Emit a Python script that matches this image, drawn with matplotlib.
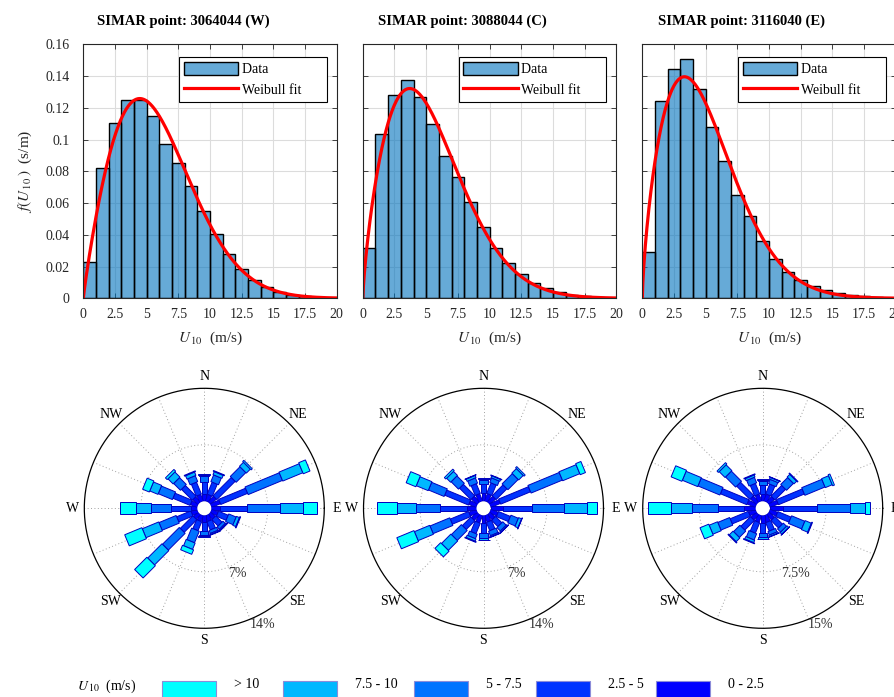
import numpy as np
import matplotlib
matplotlib.use("Agg")
import matplotlib.pyplot as plt
from matplotlib.patches import Polygon, Circle, Rectangle, Patch
from matplotlib.lines import Line2D

plt.rcParams['font.family'] = ['Liberation Serif', 'DejaVu Serif']
plt.rcParams['mathtext.fontset'] = 'stix'

# ---------------- data ----------------
titles = ["SIMAR point: 3064044 (W)", "SIMAR point: 3088044 (C)", "SIMAR point: 3116040 (E)"]
bin_edges = list(range(0, 21))  # 1 m/s bins

hist_W = [0.0227, 0.0819, 0.1105, 0.125, 0.125, 0.115, 0.0973, 0.085, 0.0707, 0.0547,
          0.0404, 0.0278, 0.0185, 0.0116, 0.0069, 0.0040, 0.0023, 0.0015, 0.0008, 0.0004]
hist_C = [0.032, 0.1036, 0.1282, 0.1375, 0.1265, 0.1097, 0.0895, 0.0762, 0.0608, 0.0448,
          0.0318, 0.0223, 0.0152, 0.0097, 0.0063, 0.0038, 0.0023, 0.0015, 0.0008, 0.0004]
hist_E = [0.029, 0.124, 0.1446, 0.1505, 0.1318, 0.108, 0.0863, 0.0653, 0.0516, 0.036,
          0.0246, 0.0168, 0.0116, 0.0078, 0.0050, 0.0032, 0.0019, 0.0013, 0.0008, 0.0004]

# Weibull fit parameters (shape k, scale c)
weib_k = [1.9, 1.75, 1.7]
weib_c = [6.6, 6.0, 5.6]

xticks = [0, 2.5, 5, 7.5, 10, 12.5, 15, 17.5, 20]
xtick_labels = ["0", "2.5", "5", "7.5", "10", "12.5", "15", "17.5", "20"]
yticks = [0, 0.02, 0.04, 0.06, 0.08, 0.1, 0.12, 0.14, 0.16]
ytick_labels = ["0", "0.02", "0.04", "0.06", "0.08", "0.1", "0.12", "0.14", "0.16"]

# wind rose: 16 directions (clockwise from N), 5 speed classes (% of time)
directions = ["N", "NNE", "NE", "ENE", "E", "ESE", "SE", "SSE",
              "S", "SSW", "SW", "WSW", "W", "WNW", "NW", "NNW"]
speed_classes = ["0 - 2.5", "2.5 - 5", "5 - 7.5", "7.5 - 10", "> 10"]
class_colors = [(0, 0, 1), (0, 0.2, 1), (0, 0.45, 1), (0, 0.72, 1), (0, 1, 1)]

rose_W = [[0.9, 1.5, 0.7, 0.2, 0.05], [0.9, 1.6, 0.9, 0.4, 0.1], [1.0, 3.2, 1.7, 0.7, 0.2],
          [1.2, 3.6, 4.6, 2.7, 0.9], [1.1, 3.3, 4.1, 2.9, 1.7], [0.9, 1.3, 1.0, 0.4, 0.1],
          [0.8, 1.1, 0.4, 0.15, 0.05], [0.8, 1.1, 0.4, 0.15, 0.05], [0.8, 1.2, 0.5, 0.1, 0.05],
          [0.8, 1.2, 1.55, 0.85, 0.6], [0.8, 2.2, 2.95, 2.5, 2.15], [0.8, 1.9, 2.3, 2.2, 2.3],
          [0.8, 2.4, 2.5, 1.9, 2.0], [0.9, 2.3, 1.9, 1.1, 0.9], [0.9, 1.9, 1.2, 0.9, 0.3],
          [0.9, 1.6, 0.8, 0.45, 0.1]]
rose_C = [[1.0, 1.2, 0.45, 0.15, 0.05], [1.0, 1.4, 0.6, 0.25, 0.05], [1.0, 1.9, 1.8, 0.8, 0.2],
          [1.3, 4.0, 4.2, 2.3, 0.7], [1.6, 3.5, 3.95, 2.85, 1.35], [1.0, 1.6, 1.0, 0.4, 0.05],
          [0.9, 1.1, 0.6, 0.15, 0.05], [0.9, 1.1, 0.6, 0.15, 0.05], [1.0, 1.2, 0.6, 0.2, 0.05],
          [1.0, 1.4, 0.6, 0.3, 0.1], [1.0, 1.5, 1.75, 1.65, 1.0], [1.0, 2.45, 2.65, 2.05, 2.3],
          [1.2, 3.3, 3.0, 2.3, 2.5], [1.0, 3.2, 2.1, 1.6, 1.3], [1.0, 2.0, 1.3, 0.7, 0.25],
          [1.0, 1.3, 0.7, 0.3, 0.05]]
rose_E = [[1.0, 1.2, 0.5, 0.15, 0.05], [1.0, 1.4, 0.6, 0.25, 0.05], [1.0, 2.0, 1.3, 0.5, 0.1],
          [1.2, 3.7, 2.9, 1.0, 0.25], [1.8, 4.45, 4.35, 2.1, 0.55], [1.1, 1.9, 1.9, 0.9, 0.1],
          [1.0, 1.4, 0.6, 0.3, 0.05], [1.0, 1.2, 0.5, 0.2, 0.05], [1.0, 1.3, 0.6, 0.2, 0.05],
          [1.0, 1.5, 0.9, 0.35, 0.1], [1.0, 1.8, 1.2, 0.7, 0.1], [1.0, 2.6, 1.7, 1.2, 1.25],
          [1.6, 3.35, 3.55, 2.8, 2.95], [1.2, 3.8, 3.15, 2.2, 1.55], [1.1, 2.5, 1.9, 1.1, 0.25],
          [1.0, 1.5, 0.8, 0.3, 0.1]]
rose_ticks = [[7, 14], [7, 14], [7.5, 15]]
rose_tick_labels = [["7%", "14%"], ["7%", "14%"], ["7.5%", "15%"]]
compass = ["N", "NE", "E", "SE", "S", "SW", "W", "NW"]

hists = [hist_W, hist_C, hist_E]
roses = [rose_W, rose_C, rose_E]

# ---------------- figure ----------------
W_PX, H_PX = 894, 697
fig = plt.figure(figsize=(W_PX / 100, H_PX / 100), dpi=100)
txt_col = '#262626'
bar_rgb = (0, 0.447, 0.741)

def fx(px):
    return px / W_PX

def fy(px):
    return 1 - px / H_PX

hist_left = [83.3, 362.8, 642.3]
hist_w, hist_top, hist_bot = 253.5, 44.3, 298.3
xfit = np.linspace(0, 20, 500)

for i in range(3):
    ax = fig.add_axes([fx(hist_left[i]), fy(hist_bot), hist_w / W_PX, (hist_bot - hist_top) / H_PX])
    ax.set_axisbelow(True)
    ax.grid(True, color='#dcdcdc', lw=0.8)
    ax.bar(bin_edges[:-1], hists[i], width=1, align='edge', color=bar_rgb,
           alpha=0.6, edgecolor='none')
    ax.bar(bin_edges[:-1], hists[i], width=1, align='edge', facecolor='none',
           edgecolor='black', lw=1.0)
    k, c = weib_k[i], weib_c[i]
    pdf = (k / c) * (xfit / c) ** (k - 1) * np.exp(-(xfit / c) ** k)
    ax.plot(xfit, pdf, color='red', lw=2.3)
    ax.set_xlim(0, 20)
    ax.set_ylim(0, 0.16)
    ax.set_xticks(xticks)
    ax.set_xticklabels(xtick_labels)
    ax.set_yticks(yticks)
    if i == 0:
        ax.set_yticklabels(ytick_labels)
        ax.set_ylabel(r"$f(U_{\,\mathit{10}}\,)$  (s/m)", fontsize=11, color=txt_col, labelpad=8)
    else:
        ax.set_yticklabels([])
    ax.tick_params(direction='in', top=True, right=True, length=3.5, width=0.6,
                   labelsize=10, colors=txt_col, labelcolor=txt_col)
    ax.tick_params(axis='y', pad=10)
    ax.tick_params(axis='x', pad=7)
    for sp in ax.spines.values():
        sp.set_color(txt_col)
        sp.set_linewidth(0.8)
    ax.set_xlabel(r"$U_{\,\mathit{10}}$  (m/s)", fontsize=11, color=txt_col, labelpad=6)
    ax.set_title(titles[i], fontsize=10.5, fontweight='bold', pad=14, x=0.393)
    handles = [Patch(facecolor=(0.4, 0.667, 0.8445), edgecolor='black', lw=1.0),
               Line2D([], [], color='red', lw=2.3)]
    leg = ax.legend(handles, ['Data' + '\u00a0' * 14, 'Weibull fit' + '\u00a0' * 6],
                    loc='upper right', bbox_to_anchor=(0.9606, 0.951),
                    borderaxespad=0, fontsize=10, handlelength=3.9, handleheight=1.15,
                    handletextpad=0.25, borderpad=0.35, labelspacing=0.45,
                    fancybox=False, framealpha=1, edgecolor='black')
    leg.get_frame().set_linewidth(0.8)

# ---------------- wind roses ----------------
rose_cx = [204.3, 483.5, 762.7]
rose_cy = 508.3
R_PX = 120.0
HALF = 1.25
hole = 7.0 / R_PX
class_width = [0.033, 0.046, 0.069, 0.081, 0.1]

for i in range(3):
    size = 2 * HALF * R_PX
    ax = fig.add_axes([fx(rose_cx[i] - size / 2), fy(rose_cy + size / 2), size / W_PX, size / H_PX])
    ax.set_xlim(-HALF, HALF)
    ax.set_ylim(-HALF, HALF)
    ax.axis('off')
    tmax = rose_ticks[i][-1]

    def rad(p):
        return hole + (1 - hole) * p / tmax

    # radial dotted grid
    for d in range(16):
        a = np.deg2rad(90 - 22.5 * d)
        ax.plot([hole * np.cos(a), np.cos(a)], [hole * np.sin(a), np.sin(a)],
                ls=(0, (1, 2.5)), color='#a0a0a0', lw=0.7, zorder=1)
    tt = np.linspace(0, 2 * np.pi, 400)
    for t in rose_ticks[i][:-1]:
        ax.plot(rad(t) * np.cos(tt), rad(t) * np.sin(tt), ls=(0, (1, 2.5)),
                color='#a0a0a0', lw=0.7, zorder=1)
    ax.plot(np.cos(tt), np.sin(tt), color='black', lw=0.9, zorder=1)

    # bars
    data = np.array(roses[i])
    for d in range(16):
        a = np.deg2rad(90 - 22.5 * d)
        u = np.array([np.cos(a), np.sin(a)])
        n = np.array([-np.sin(a), np.cos(a)])
        cum = np.concatenate([[0], np.cumsum(data[d])])
        for c in range(5):
            r0, r1 = rad(cum[c]), rad(cum[c + 1])
            w = class_width[c] / 2
            pts = [r0 * u + w * n, r1 * u + w * n, r1 * u - w * n, r0 * u - w * n]
            ax.add_patch(Polygon(pts, closed=True, facecolor=class_colors[c],
                                 edgecolor=(0, 0, 0.75), lw=0.7, zorder=3 + c))
    ax.add_patch(Circle((0, 0), hole, facecolor='white', edgecolor='none', zorder=10))

    # compass labels
    for j, lab in enumerate(compass):
        a = np.deg2rad(90 - 45 * j)
        ax.text(1.1 * np.cos(a), 1.1 * np.sin(a), lab, ha='center', va='center',
                fontsize=10, color='black')
    # ring labels
    la = np.deg2rad(-63.5)
    for t, lab in zip(rose_ticks[i], rose_tick_labels[i]):
        r = rad(t) + 0.08
        ax.text(r * np.cos(la), r * np.sin(la), lab, ha='center', va='center',
                fontsize=10, color='#333333')

# ---------------- bottom legend ----------------
lax = fig.add_axes([0, 0, 1, 1], zorder=-1)
lax.set_xlim(0, W_PX)
lax.set_ylim(H_PX, 0)
lax.axis('off')
lax.text(77, 686, r"$U_{\,\mathit{10}}$  (m/s)", fontsize=10, va='center', ha='left')
leg_x = [162, 283, 414, 536, 656]
for j, c in enumerate(range(4, -1, -1)):
    lax.add_patch(Rectangle((leg_x[j], 681), 54, 22, facecolor=class_colors[c],
                            edgecolor=(0.55, 0.55, 0.85), lw=0.8, clip_on=False))
    lax.text(leg_x[j] + 72, 685, speed_classes[c], fontsize=10, va='center', ha='left')

fig.savefig("out.png", dpi=100)
